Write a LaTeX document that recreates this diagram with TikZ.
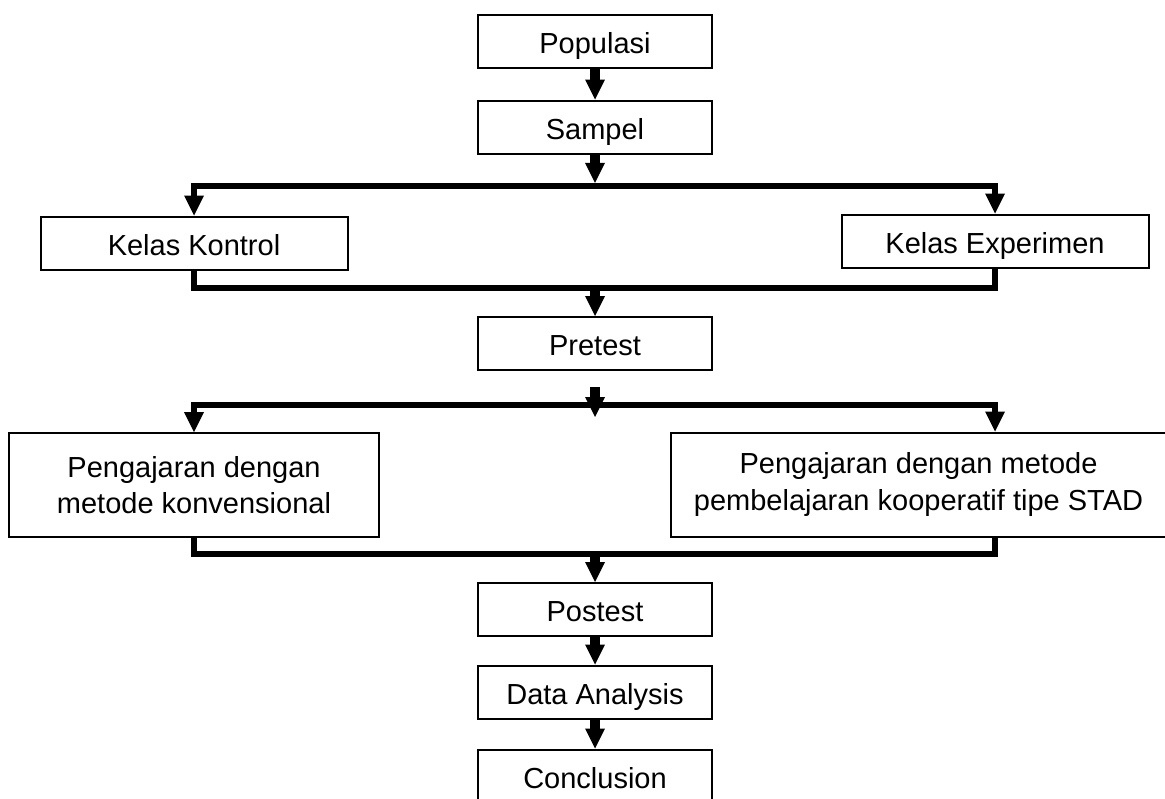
\documentclass[tikz,border=0pt]{standalone}
\usepackage{fontspec}
\setmainfont{Liberation Sans}
\usetikzlibrary{arrows.meta}

\begin{document}
\begin{tikzpicture}[x=0.5pt, y=-0.5pt,
    box/.style={draw, line width=1pt, minimum width=117pt, minimum height=26.5pt, inner sep=0pt,
        text height=15pt, text depth=3pt, font=\fontsize{14.5pt}{18.3pt}\selectfont},
    widebox/.style={draw, line width=1pt, minimum height=52pt, inner sep=0pt, align=center,
        font=\fontsize{14.5pt}{18.3pt}\selectfont},
    flow/.style={-{Triangle[length=10pt, width=10pt, line width=0pt]}, line width=5pt},
    link/.style={line width=3.2pt},
    branch/.style={link, -{Triangle[length=10pt, width=10pt, line width=0pt]}}
    ]
    \useasboundingbox (0,0) rectangle (1165,798);

    % kotak
    \node[box] (populasi) at (595,41) {Populasi};
    \node[box] (sampel) at (595,127) {Sampel};
    \node[box, minimum width=153.5pt] (kontrol) at (194,243) {Kelas Kontrol};
    \node[box, minimum width=153.5pt] (experimen) at (995,241) {Kelas Experimen};
    \node[box] (pretest) at (595,343.5) {Pretest};
    \node[widebox, minimum width=185pt] (konvensional) at (194,485) {Pengajaran dengan\\metode konvensional};
    \node[widebox, minimum width=248pt] (stad) at (918.5,484.5) {Pengajaran dengan metode\\pembelajaran kooperatif tipe STAD};
    \node[box] (postest) at (595,609.5) {Postest};
    \node[box] (analisis) at (595,692) {Data Analysis};
    \node[box] (kesimpulan) at (595,776) {Conclusion};

    % titik cabang
    \coordinate (split1) at (595,186);
    \coordinate (merge1) at (595,288);
    \coordinate (split2) at (595,405);
    \coordinate (merge2) at (595,554);

    % panah
    \draw[flow] (populasi) -- (sampel);
    \draw[flow, shorten >=1.6pt] (sampel) -- (split1);
    \draw[branch] (split1) -| (kontrol.north);
    \draw[branch] (split1) -| (experimen.north);
    \draw[link] (kontrol.south) |- (merge1) -| (experimen.south);
    \draw[flow] (merge1) -- (pretest);
    \draw[flow, shorten <=8pt, shorten >=-6pt] (pretest) -- (split2);
    \draw[branch] (split2) -| (konvensional.north);
    \draw[branch] (split2) -| (experimen |- stad.north);
    \draw[link] (konvensional.south) |- (merge2) -| (experimen |- stad.south);
    \draw[flow] (merge2) -- (postest);
    \draw[flow] (postest) -- (analisis);
    \draw[flow] (analisis) -- (kesimpulan);

\end{tikzpicture}
\end{document}
